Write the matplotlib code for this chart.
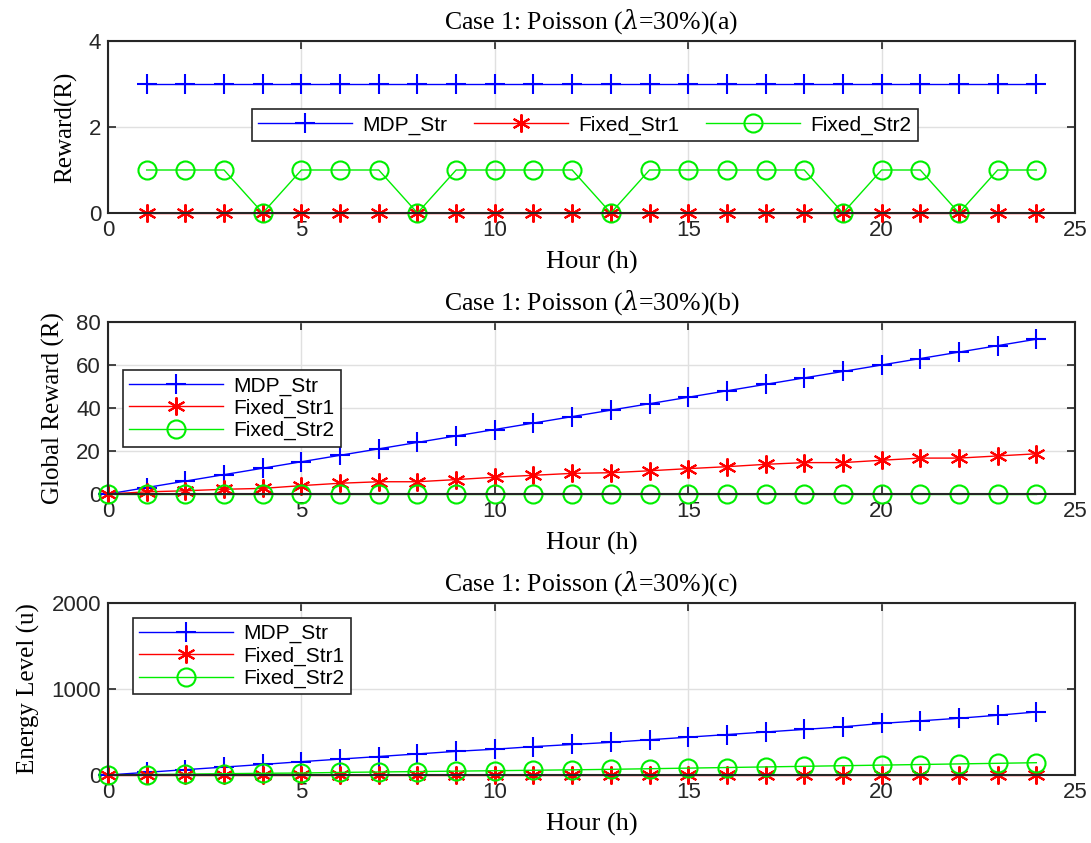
import matplotlib
matplotlib.use("Agg")
import matplotlib.pyplot as plt
import numpy as np

hours_a = list(range(1, 25))
reward_mdp = [3] * 24
reward_fixed1 = [0] * 24
reward_fixed2 = [1, 1, 1, 0, 1, 1, 1, 0, 1, 1, 1, 1, 0, 1, 1, 1, 1, 1, 0, 1, 1, 0, 1, 1]

hours = list(range(0, 25))
global_mdp = [0, 3, 6, 9, 12, 15, 18, 21, 24, 27, 30, 33, 36, 39, 42, 45, 48, 51, 54, 57, 60, 63, 66, 69, 72]
global_fixed1 = [0, 1, 1.5, 2.2, 2.6, 3.9, 5, 5.7, 5.7, 6.7, 7.8, 8.7, 9.6, 9.9, 10.8, 11.8, 12.7,
                 13.8, 14.6, 14.6, 15.7, 16.7, 16.7, 17.7, 18.7]
global_fixed2 = [0] * 25

energy_mdp = [0, 31, 62, 92, 123, 155, 185, 215, 245, 275, 300, 330, 355, 380, 410, 440, 470,
              500, 530, 560, 600, 630, 660, 695, 733]
energy_fixed1 = [0] * 25
energy_fixed2 = [0, 5, 10, 15, 20, 23, 30, 35, 40, 45, 50, 55, 60, 66, 73, 80, 87, 94, 101,
                 108, 115, 122, 129, 136, 143]

labels = ["MDP_Str", "Fixed_Str1", "Fixed_Str2"]
serif = ["Liberation Serif", "DejaVu Serif"]
sans = ["Liberation Sans", "DejaVu Sans"]
plt.rcParams['font.family'] = sans
plt.rcParams['mathtext.fontset'] = 'custom'
plt.rcParams['mathtext.it'] = 'DejaVu Serif:italic'
plt.rcParams['mathtext.rm'] = 'Liberation Serif'

fig = plt.figure(figsize=(10.91, 8.43), dpi=100)
W, H = 1091, 843
boxes = [(108, 41, 1075, 213), (108, 322, 1075, 494), (108, 603, 1075, 775)]
axes = []
for (l, t, r, b) in boxes:
    ax = fig.add_axes([l / W, 1 - b / H, (r - l) / W, (b - t) / H])
    axes.append(ax)

styles = [dict(color='#0000ff', marker='+', markersize=14, mew=1.5, lw=1.0),
          dict(color='#ff0000', marker=(6, 2, 0), markersize=13, mew=1.5, lw=1.0),
          dict(color='#00ee00', marker='o', markersize=13, mew=1.5, lw=1.0, markerfacecolor='none')]

datasets = [
    (hours_a, [reward_mdp, reward_fixed1, reward_fixed2]),
    (hours, [global_mdp, global_fixed1, global_fixed2]),
    (hours, [energy_mdp, energy_fixed1, energy_fixed2]),
]
titles = ["Case 1: Poisson ($\\lambda$=30%)(a)", "Case 1: Poisson ($\\lambda$=30%)(b)",
          "Case 1: Poisson ($\\lambda$=30%)(c)"]
ylabels = ["Reward(R)", "Global Reward (R)", "Energy Level (u)"]
ylims = [(0, 4), (0, 80), (0, 2000)]
yticks = [[0, 2, 4], [0, 20, 40, 60, 80], [0, 1000, 2000]]

for i, ax in enumerate(axes):
    x, series = datasets[i]
    for s, lab, st in zip(series, labels, styles):
        ax.plot(x, s, label=lab, clip_on=False, zorder=3, **st)
    ax.set_xlim(0, 25)
    ax.set_ylim(*ylims[i])
    ax.set_xticks([0, 5, 10, 15, 20, 25])
    ax.set_yticks(yticks[i])
    ax.grid(True, color='#e0e0e0', lw=1.0)
    ax.set_axisbelow(True)
    ax.tick_params(direction='in', top=True, right=True, labelsize=16, length=6, width=1.2,
                   colors='#262626', labelcolor='#262626', pad=5)
    for sp in ax.spines.values():
        sp.set_linewidth(1.5)
        sp.set_color('#262626')
        sp.set_zorder(4)
    ax.set_title(titles[i], fontsize=18.5, family=serif, pad=9)
    ax.set_xlabel("Hour (h)", fontsize=19, family=serif, labelpad=7)
    ax.set_ylabel(ylabels[i], fontsize=18, family=serif, labelpad=8)

leg_kw = dict(fontsize=15, frameon=True, fancybox=False, edgecolor='#262626', framealpha=1,
              handlelength=4.5, borderpad=0.3, labelspacing=0.15, handletextpad=0.5,
              borderaxespad=0)
l0 = axes[0].legend(ncol=3, loc='center', bbox_to_anchor=(0.493, 0.51), columnspacing=1.3, **leg_kw)
l1 = axes[1].legend(loc='upper left', bbox_to_anchor=(0.0155, 0.72), **leg_kw)
l2 = axes[2].legend(loc='upper left', bbox_to_anchor=(0.026, 0.913), **leg_kw)
for lg in (l0, l1, l2):
    lg.get_frame().set_linewidth(1.2)
    lg.set_zorder(5)

fig.savefig("out.png", dpi=100)
